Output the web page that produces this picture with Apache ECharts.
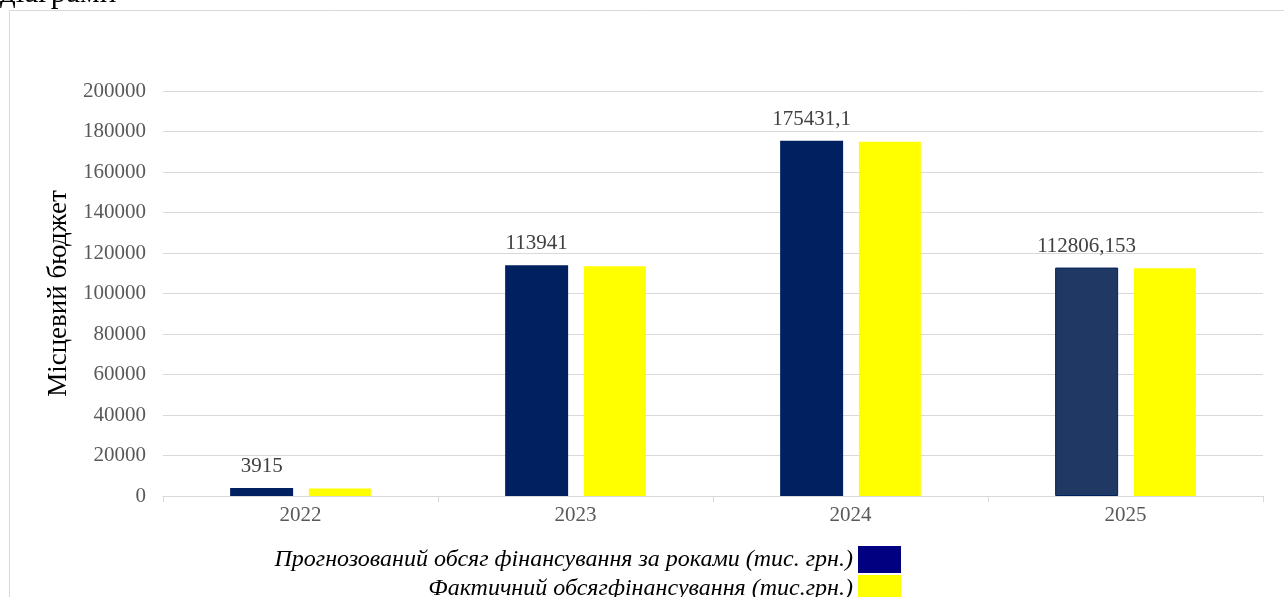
<!DOCTYPE html>
<html><head><meta charset="utf-8">
<script src="https://cdn.jsdelivr.net/npm/echarts@6/dist/echarts.min.js"></script>
<style>html,body{margin:0;padding:0;background:#fff}#c{width:1284px;height:597px}</style>
</head><body><div id="c"></div>
<script>
const categories = ['2022', '2023', '2024', '2025'];
const forecast = [3915, 113941, 175431.1, 112806.153];
const actual = [3750, 113500, 175000, 112500];
const forecastLabels = ['3915', '113941', '175431,1', '112806,153'];
const seriesNames = ['Прогнозований обсяг фінансування за роками (тис. грн.)', 'Фактичний обсягфінансування (тис.грн.)'];
const yTicks = { min: 0, max: 200000, interval: 20000 };

const serif = '"Liberation Serif", "DejaVu Serif", serif';
const chart = echarts.init(document.getElementById('c'), null, { renderer: 'canvas' });
chart.setOption({
  animation: false,
  backgroundColor: '#fff',
  graphic: [
    { type: 'rect', shape: { x: 9.5, y: 10.5, width: 1290, height: 600 }, style: { fill: 'none', stroke: '#d9d9d9', lineWidth: 1 }, silent: true },
    { type: 'text', left: 0, top: -22, style: { text: 'діаграми', font: '31px ' + serif, fill: '#000' } }
  ],
  grid: { left: 163, right: 21, top: 91, bottom: 101 },
  legend: {
    orient: 'vertical', right: 378, top: 541, align: 'right', height: 60,
    itemWidth: 43, itemHeight: 27, itemGap: 2,
    textStyle: { fontFamily: serif, fontSize: 24, fontStyle: 'italic', color: '#000' },
    data: [
      { name: seriesNames[0], icon: 'rect', itemStyle: { color: '#000080' } },
      { name: seriesNames[1], icon: 'rect', itemStyle: { color: '#ffff00' } }
    ]
  },
  xAxis: {
    type: 'category', data: categories,
    axisLine: { lineStyle: { color: '#d9d9d9' } },
    axisTick: { show: true, length: 6, lineStyle: { color: '#d9d9d9' } },
    axisLabel: { color: '#595959', fontFamily: serif, fontSize: 21, margin: 9 }
  },
  yAxis: {
    type: 'value', min: yTicks.min, max: yTicks.max, interval: yTicks.interval,
    name: 'Місцевий бюджет', nameLocation: 'middle', nameGap: 90,
    nameTextStyle: { fontFamily: serif, fontSize: 27, color: '#000' },
    axisLine: { show: false }, axisTick: { show: false },
    axisLabel: { color: '#595959', fontFamily: serif, fontSize: 21, margin: 17, formatter: v => String(v) },
    splitLine: { lineStyle: { color: '#d9d9d9' } }
  },
  series: [
    {
      name: seriesNames[0], type: 'bar', barWidth: 63, barGap: '25%',
      data: forecast.map((v, i) => i === 3
        ? { value: v, itemStyle: { color: '#1f3864', borderColor: '#002060', borderWidth: 1 } }
        : { value: v }),
      itemStyle: { color: '#002060' },
      label: {
        show: true, position: 'top', distance: 11,
        formatter: p => forecastLabels[p.dataIndex],
        fontFamily: serif, fontSize: 21, color: '#404040'
      }
    },
    {
      name: seriesNames[1], type: 'bar', barWidth: 62,
      data: actual,
      itemStyle: { color: '#ffff00' }
    }
  ]
});
</script></body></html>
